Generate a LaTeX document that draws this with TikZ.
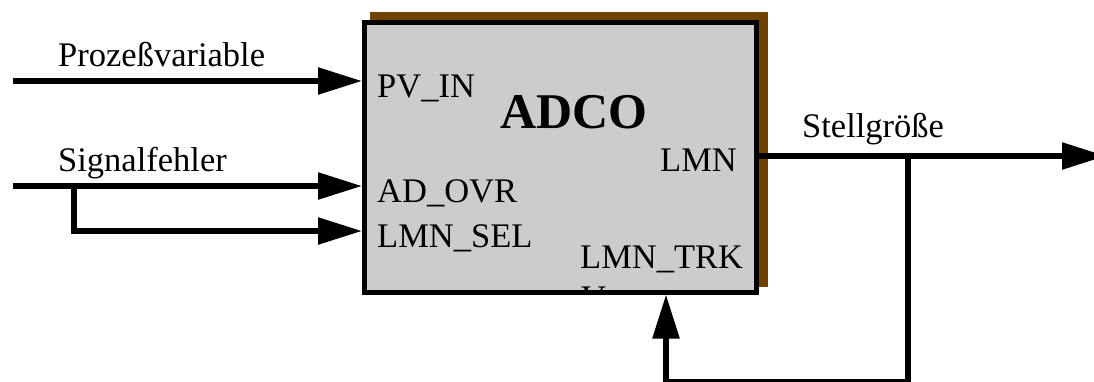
\documentclass[tikz,border=0pt]{standalone}
\usepackage{fontspec}
\setmainfont{Liberation Serif}
\usetikzlibrary{arrows.meta}
\definecolor{shadowbrown}{RGB}{112,66,0}
\definecolor{boxgray}{RGB}{204,204,204}
\begin{document}
\begin{tikzpicture}[x=1pt,y=-1pt,
  wire/.style={line width=5.5pt},
  sig/.style={wire,-{Triangle[length=44pt,width=26pt]}},
  lbl/.style={font=\fontsize{34.5}{41}\selectfont, inner sep=0pt, anchor=base west},
  titlelbl/.style={font=\fontsize{50}{56}\selectfont\bfseries, inner sep=0pt, anchor=base west},
  fblock/.style={draw, line width=5pt, fill=boxgray, inner sep=0pt, outer sep=0pt}]
\clip (0,0) rectangle (1094,381);
% shadow
\fill[shadowbrown] (370,12) rectangle (768,287);
% block
\node[fblock, minimum width=391.8pt, minimum height=269.5pt] (adco) at (560.4,157.25) {};
% texts inside
\node[lbl] (pvin) at (377,97) {PV\_IN};
\node[titlelbl] (title) at (500,128) {ADCO};
\node[lbl] (lmn) at (660,171) {LMN};
\node[lbl] (adovr) at (377,202) {AD\_OVR};
\node[lbl] (lmnsel) at (377,247) {LMN\_SEL};
\node[lbl] (lmntrk) at (580,268) {LMN\_TRK};
\begin{scope}
  \clip (367,25) rectangle (753.8,289.5);
  \node[lbl] (lmntrkv) at (581,309) {V};
\end{scope}
% outside labels
\node[lbl] (pvlabel) at (58,66) {Prozeßvariable};
\node[lbl] (sflabel) at (58,171) {Signalfehler};
\node[lbl] (stlabel) at (802,137) {Stellgröße};
% coordinates
\coordinate (pvStart) at (13,81);
\coordinate (pvIn) at (362,81);
\coordinate (sfStart) at (13,186);
\coordinate (adIn) at (362,186);
\coordinate (branch) at (74,186);
\coordinate (branchLow) at (74,231);
\coordinate (selIn) at (362,231);
\coordinate (lmnOut) at (758,156);
\coordinate (outEnd) at (1106,156);
\coordinate (tap) at (908,156);
\coordinate (tapLow) at (908,381.5);
\coordinate (fbCorner) at (666,381.5);
\coordinate (trkIn) at (666,294.5);
% connectors
\draw[sig] (pvStart) -- (pvIn);
\draw[sig] (sfStart) -- (adIn);
\draw[sig] (branch) -- (branchLow) -- (selIn);
\draw[sig] (lmnOut) -- (outEnd);
\draw[sig] (tap) -- (tapLow) -- (fbCorner) -- (trkIn);
\end{tikzpicture}
\end{document}
